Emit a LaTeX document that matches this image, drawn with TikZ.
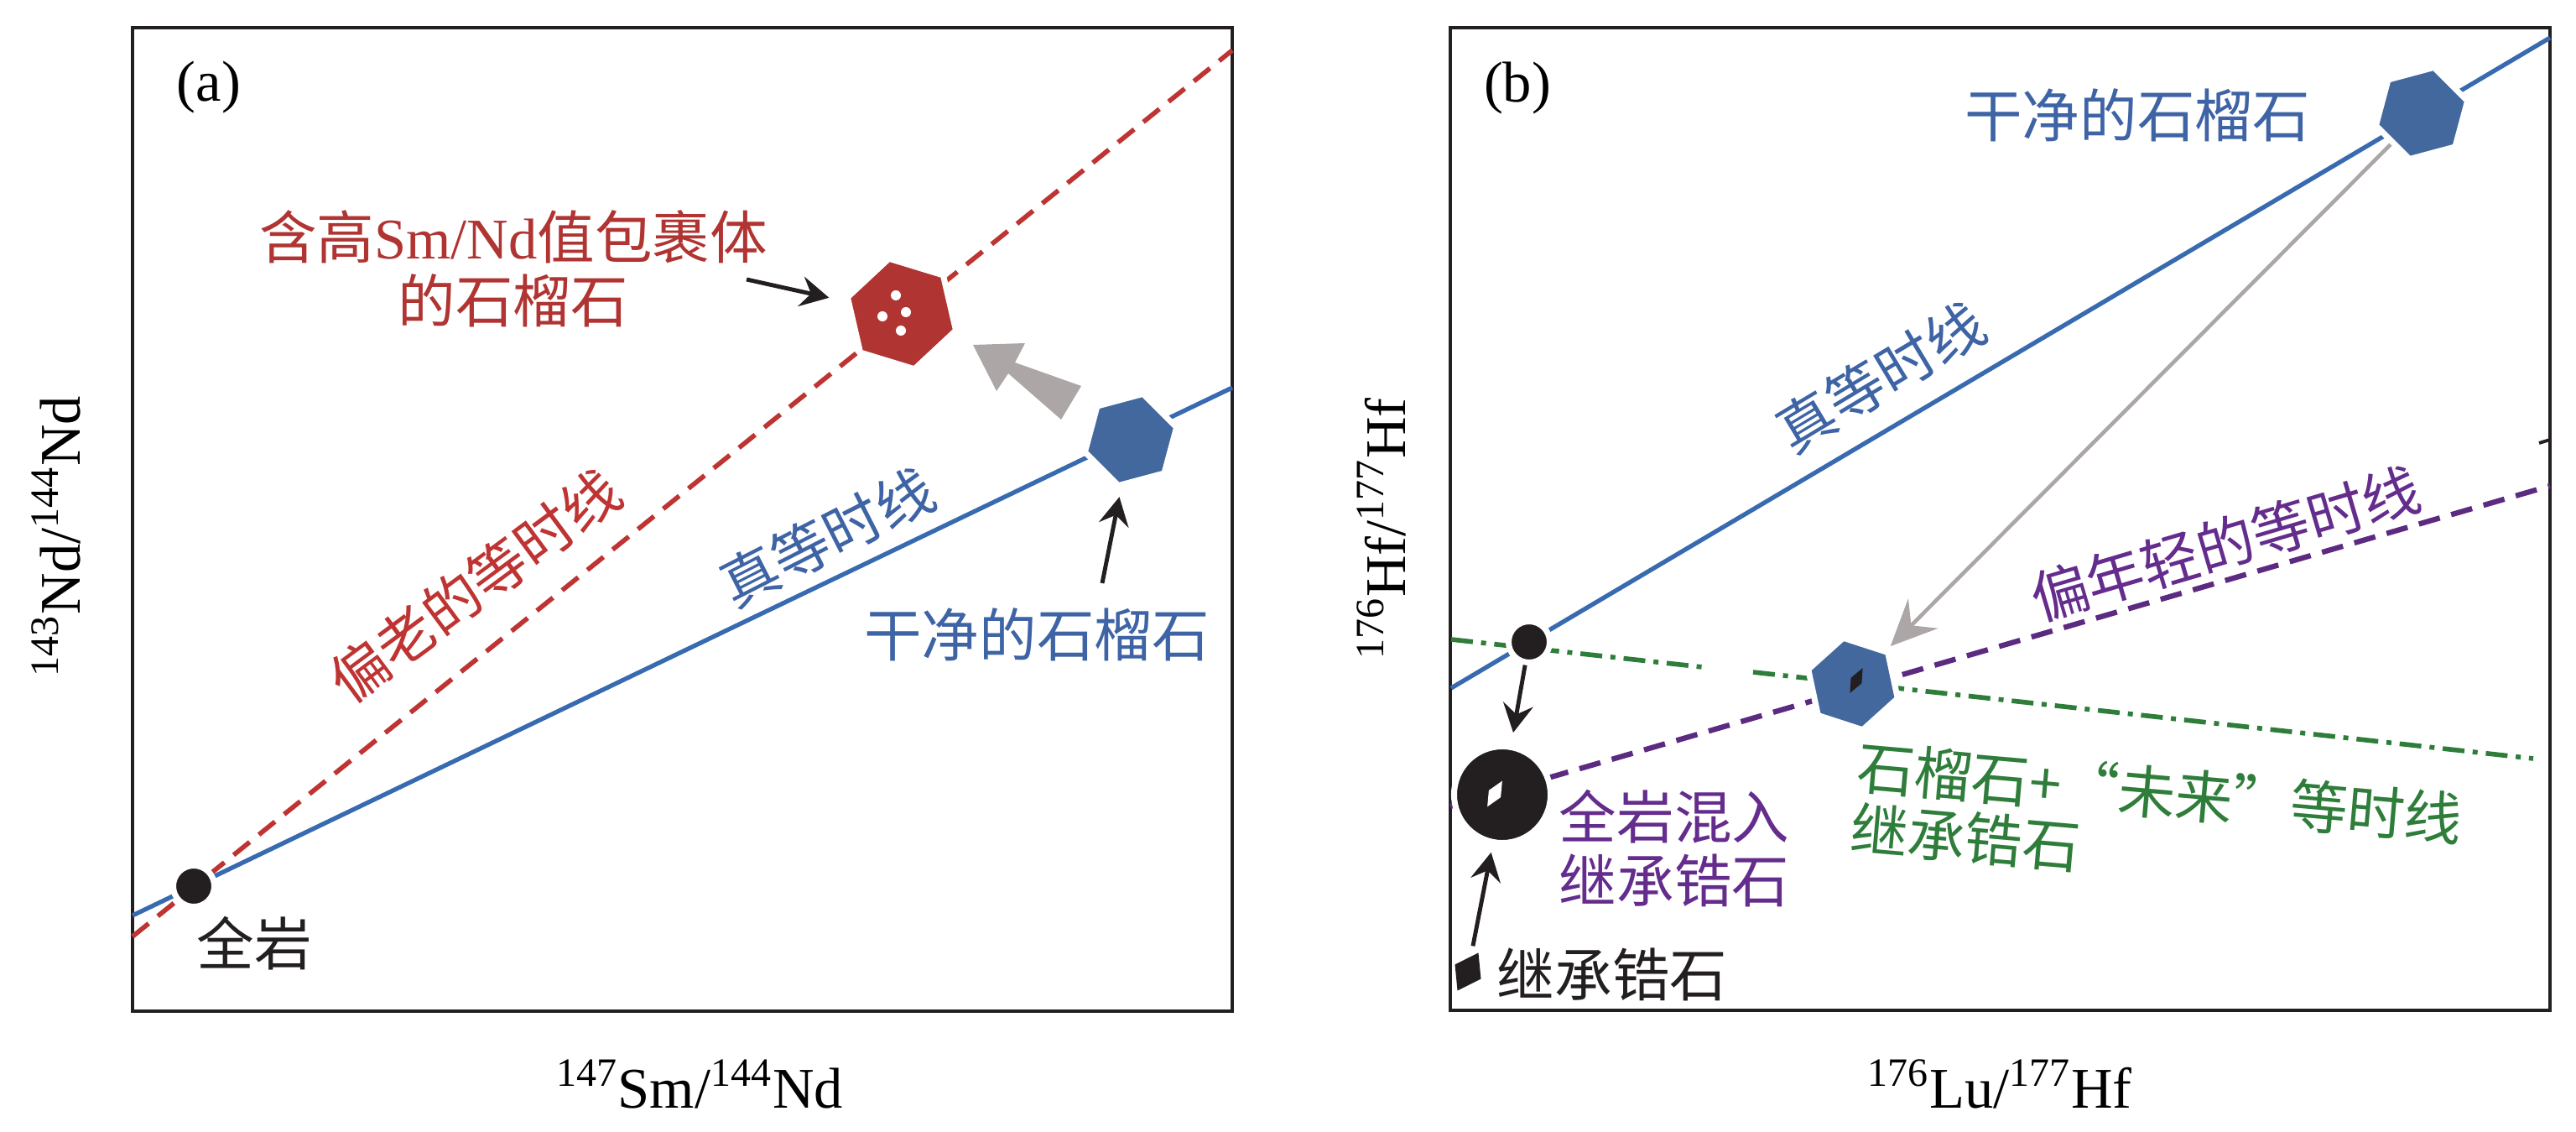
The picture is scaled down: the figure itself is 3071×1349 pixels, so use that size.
\documentclass[tikz,border=0pt]{standalone}
\usepackage{fontspec}
\setmainfont{Liberation Serif}
\newfontfamily\cjk{Noto Sans CJK SC}
\usepackage{tikz}
\usetikzlibrary{shapes.geometric}
\usetikzlibrary{arrows.meta}
\usepackage{color}
\definecolor{Iso-blue}{RGB}{56,106,176}
\definecolor{Grt-blue}{RGB}{66,104,158}
\definecolor{Txt-blue}{RGB}{62,100,165}
\definecolor{Iso-red}{RGB}{190,52,50}
\definecolor{Grt-red}{RGB}{176,52,50}
\definecolor{Iso-purple}{RGB}{92,42,128}
\definecolor{Txt-purple}{RGB}{100,44,140}
\definecolor{Iso-green}{RGB}{46,125,58}
\definecolor{Arr-gray}{RGB}{172,166,166}
\definecolor{Ink}{RGB}{35,31,32}
\newcommand{\lblfont}{\fontsize{19.5}{21.6}\selectfont}

\begin{document}
\begin{tikzpicture}[x=0.01cm, y=-0.01cm]
    \tikzset{ frm/.style     ={draw=Ink, line width=1pt} }
    \tikzset{ hex/.style     ={regular polygon, regular polygon sides=6, inner sep=0pt, draw=white, line width=2pt} }
    \tikzset{ rockdot/.style ={circle, inner sep=0pt, fill=Ink, draw=white, line width=2pt} }
    \tikzset{ xtal/.style    ={diamond, inner sep=0pt} }
    \tikzset{ lbl/.style     ={font=\lblfont, inner sep=0pt} }
    \tikzset{ zh/.style      ={font=\lblfont\cjk, inner sep=0pt} }
    \tikzset{ ptr/.style     ={draw=Ink, line width=1.4pt, -{Stealth[length=3.4mm, width=3.6mm, inset=1.2mm]}} }

    \useasboundingbox (0,0) rectangle (3071,1349);

    % frames
    \draw[frm] (158,33) rectangle (1469,1205);
    \draw[frm] (1729,33) rectangle (3040,1204);
    \draw[frm, line width=1.1pt] (3027,528) -- (3040,524);

    % (a) Sm-Nd
    \coordinate (a_red0) at (158,1116);
    \coordinate (a_red1) at (1469,60);
    \coordinate (a_blu0) at (158,1091);
    \coordinate (a_blu1) at (1469,462);
    \draw[Iso-red, line width=1.6pt, dash pattern=on 7pt off 4pt] (a_red0) -- (a_red1);
    \draw[Iso-blue, line width=1.5pt] (a_blu0) -- (a_blu1);

    \node[rockdot, minimum size=0.49cm] (a_wr) at (231,1056) {};
    \node[hex, fill=Grt-red, minimum size=1.35cm, shape border rotate=43] (a_grt_inc) at (1075,374) {};
    \node[hex, fill=Grt-blue, minimum size=1.13cm, shape border rotate=15] (a_grt) at (1348,524) {};
    \foreach \px/\py in {1068/352, 1080/372, 1052/377, 1074/394}
        \fill[white] (\px,\py) circle (0.06cm);

    \fill[Arr-gray] (1160,411) -- (1222,409) -- (1210,432) -- (1289,460) -- (1265,500) -- (1202,445) -- (1188,466) -- cycle;

    \coordinate (a_inc_tail) at (890,333);
    \coordinate (a_grt_tail) at (1314,695);
    \draw[ptr, shorten >=0.2cm]  (a_inc_tail) -- (a_grt_inc);
    \draw[ptr, shorten >=0.11cm] (a_grt_tail) -- (a_grt);

    \node[lbl] (a_tag) at (249,104) {(a)};
    \node[lbl, text=Grt-red, align=center] (a_inc_lbl) at (612,320) {{\cjk 含高}Sm/Nd{\cjk 值包裹体}\\{\cjk 的石榴石}};
    \node[zh, text=Iso-red, rotate=36.5] (a_old_lbl) at (566,698) {偏老的等时线};
    \node[zh, text=Txt-blue, rotate=27] (a_true_lbl) at (986,640) {真等时线};
    \node[zh, text=Txt-blue] (a_grt_lbl) at (1236,756) {干净的石榴石};
    \node[zh, text=Ink] (a_wr_lbl) at (303,1124) {全岩};
    \node[lbl] (a_xlab) at (834,1292) {\textsuperscript{147}Sm/\textsuperscript{144}Nd};
    \node[lbl, rotate=90] (a_ylab) at (67,639) {\textsuperscript{143}Nd/\textsuperscript{144}Nd};

    % (b) Lu-Hf
    \coordinate (b_blu0) at (1730,820);
    \coordinate (b_blu1) at (3040,45);
    \coordinate (b_pur0) at (1729,961);
    \coordinate (b_pur1) at (3040,579);
    \coordinate (b_grn0) at (1730,762);
    \coordinate (b_gap0) at (2030,795);
    \coordinate (b_gap1) at (2090,801);
    \coordinate (b_grn1) at (3020,904);
    \draw[Iso-blue, line width=1.5pt] (b_blu0) -- (b_blu1);
    \draw[Iso-purple, line width=1.8pt, dash pattern=on 7.4pt off 4pt] (b_pur0) -- (b_pur1);
    \draw[Iso-green, line width=1.6pt, dash pattern=on 7.4pt off 2.8pt on 1.7pt off 2.8pt] (b_grn0) -- (b_gap0);
    \draw[Iso-green, line width=1.6pt, dash pattern=on 7.4pt off 2.8pt on 1.7pt off 2.8pt] (b_gap1) -- (b_grn1);

    \node[rockdot, minimum size=0.49cm] (b_wr) at (1823,765) {};
    \node[rockdot, minimum size=1.15cm] (b_mix) at (1791,947) {};
    \node[xtal, fill=white, minimum width=0.17cm, minimum height=0.36cm, rotate=-30] (b_mix_zrn) at (1782,946) {};
    \node[hex, fill=Grt-blue, minimum size=1.13cm, shape border rotate=15] (b_grt) at (2887,135) {};
    \node[hex, fill=Grt-blue, minimum size=1.12cm, shape border rotate=42] (b_grt_zrn) at (2209,815) {};
    \node[xtal, fill=Ink, minimum width=0.15cm, minimum height=0.34cm, rotate=-27] (b_grt_core) at (2213,811) {};
    \node[xtal, fill=Ink, minimum width=0.36cm, minimum height=0.52cm, rotate=-29] (b_zrn) at (1750,1158) {};

    \draw[Arr-gray, line width=1.3pt, -{Stealth[length=5.5mm, width=5mm, inset=2mm]}, shorten >=0.05cm] (b_grt) -- (b_grt_zrn);
    \draw[ptr, shorten >=0.14cm] (b_wr) -- (b_mix);
    \draw[ptr, shorten <=0.12cm, shorten >=0.09cm] (b_zrn) -- (b_mix);

    \node[lbl] (b_tag) at (1809,105) {(b)};
    \node[zh, text=Txt-blue] (b_grt_lbl) at (2548,137) {干净的石榴石};
    \node[zh, text=Txt-blue, rotate=31] (b_true_lbl) at (2242,449) {真等时线};
    \node[zh, text=Txt-purple, rotate=16.4] (b_young_lbl) at (2653,648) {偏年轻的等时线};
    \node[zh, text=Txt-purple, align=left] (b_mix_lbl) at (1996,1011) {全岩混入\\继承锆石};
    \node[zh, text=Iso-green, rotate=-5] (b_fut_lbl) at (2575,945) {石榴石+“未来”等时线};
    \node[zh, text=Iso-green, rotate=-5] (b_fut_zrn) at (2343,998) {继承锆石};
    \node[zh, text=Ink] (b_zrn_lbl) at (1922,1161) {继承锆石};
    \node[lbl] (b_xlab) at (2384,1292) {\textsuperscript{176}Lu/\textsuperscript{177}Hf};
    \node[lbl, rotate=90] (b_ylab) at (1647,630) {\textsuperscript{176}Hf/\textsuperscript{177}Hf};

\end{tikzpicture}
\end{document}
